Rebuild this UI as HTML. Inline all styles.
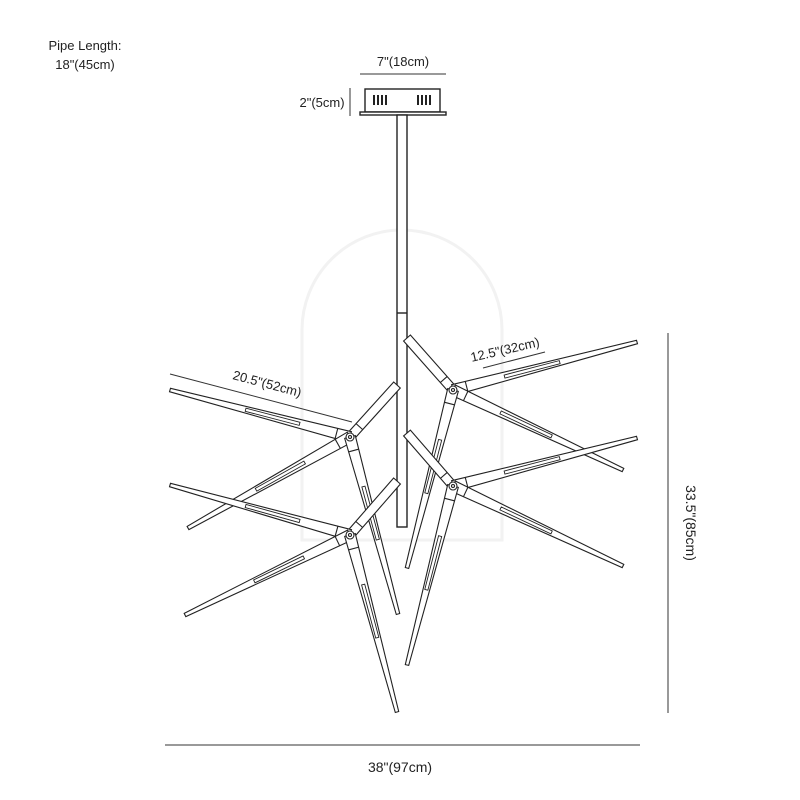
<!DOCTYPE html>
<html><head><style>
html,body{margin:0;padding:0;background:#fff;}
svg{display:block;font-family:"Liberation Sans",sans-serif;}
</style></head><body>
<svg id="s" width="800" height="800" viewBox="0 0 800 800" xmlns="http://www.w3.org/2000/svg">
<rect width="800" height="800" fill="#fff"/>
<g fill="none" stroke="#f2f2f2" stroke-width="3">
<path d="M302 540 V330 A100 100 0 0 1 502 330 V540 Z"/>
</g>
<text x="85" y="50" font-size="13" text-anchor="middle" fill="#222">Pipe Length:</text>
<text x="85" y="69" font-size="13" text-anchor="middle" fill="#222">18"(45cm)</text>
<text x="403" y="66" font-size="13" text-anchor="middle" fill="#222">7"(18cm)</text>
<line x1="360" y1="74" x2="446" y2="74" stroke="#333" stroke-width="1"/>
<text x="322" y="107" font-size="13" text-anchor="middle" fill="#222">2"(5cm)</text>
<line x1="350" y1="88" x2="350" y2="116" stroke="#333" stroke-width="1"/>
<g stroke="#222" stroke-width="1.4" fill="#fff">
<rect x="365" y="89" width="75" height="23"/>
<rect x="360" y="112" width="86" height="3"/>
<rect x="397" y="115" width="10" height="412"/>
<line x1="397" y1="313" x2="407" y2="313"/>
</g>
<g fill="#222">
<rect x="373" y="95" width="2" height="10"/><rect x="377" y="95" width="2" height="10"/><rect x="381" y="95" width="2" height="10"/><rect x="385" y="95" width="2" height="10"/>
<rect x="417" y="95" width="2" height="10"/><rect x="421" y="95" width="2" height="10"/><rect x="425" y="95" width="2" height="10"/><rect x="429" y="95" width="2" height="10"/>
</g>
<g id="arms" stroke="#222" stroke-width="1.1" fill="#fff"></g>
<line x1="170" y1="374" x2="352" y2="422" stroke="#333" stroke-width="1"/>
<text x="0" y="0" font-size="13" fill="#222" text-anchor="middle" transform="translate(266,388) rotate(14.8)">20.5"(52cm)</text>
<line x1="483" y1="368" x2="545" y2="352" stroke="#333" stroke-width="1"/>
<text x="0" y="0" font-size="13" fill="#222" text-anchor="middle" transform="translate(506,354) rotate(-13)">12.5"(32cm)</text>
<line x1="668" y1="333" x2="668" y2="713" stroke="#333" stroke-width="1"/>
<text x="0" y="0" font-size="14" fill="#222" text-anchor="middle" transform="translate(686,523) rotate(90)">33.5"(85cm)</text>
<line x1="165" y1="745" x2="640" y2="745" stroke="#333" stroke-width="1"/>
<text x="400" y="772" font-size="14" fill="#222" text-anchor="middle">38"(97cm)</text>
</svg>
<script>
var g=document.getElementById('arms'),NS='http://www.w3.org/2000/svg';
function el(t,a){var e=document.createElementNS(NS,t);for(var k in a)e.setAttribute(k,a[k]);g.appendChild(e);return e;}
function arm(hx,hy,tx,ty,w0,w1,slot){
 var dx=tx-hx,dy=ty-hy,L=Math.hypot(dx,dy),ux=dx/L,uy=dy/L,nx=-uy,ny=ux;
 var p=[[hx+nx*w0,hy+ny*w0],[tx+nx*w1,ty+ny*w1],[tx-nx*w1,ty-ny*w1],[hx-nx*w0,hy-ny*w0]];
 el('polygon',{points:p.map(function(q){return q[0].toFixed(1)+','+q[1].toFixed(1)}).join(' ')});
 var a=14;
 el('line',{x1:hx+ux*a+nx*w0,y1:hy+uy*a+ny*w0,x2:hx+ux*a-nx*w0,y2:hy+uy*a-ny*w0});
 if(slot){var s0=L*0.28,s1=L*0.58,sw=1.6;
  var q=[[hx+ux*s0+nx*sw,hy+uy*s0+ny*sw],[hx+ux*s1+nx*sw,hy+uy*s1+ny*sw],[hx+ux*s1-nx*sw,hy+uy*s1-ny*sw],[hx+ux*s0-nx*sw,hy+uy*s0-ny*sw]];
  el('polygon',{points:q.map(function(r){return r.join(',')}).join(' '),'stroke-width':0.9});}
}
var hubs=[
 [350,437,397,385,[[170,390],[188,528],[398,614]]],
 [453,390,407,338,[[637,342],[623,470],[407,568]]],
 [350,535,397,481,[[170,485],[185,615],[397,712]]],
 [453,486,407,433,[[637,438],[623,566],[407,665]]]
];
hubs.forEach(function(h){
 arm(h[0],h[1],h[2],h[3],4.5,4.5,false);
 h[4].forEach(function(t){arm(h[0],h[1],t[0],t[1],5.5,1.8,true);});
 el('circle',{cx:h[0],cy:h[1],r:4});
 el('circle',{cx:h[0],cy:h[1],r:1.5});
});
</script>
</body></html>
